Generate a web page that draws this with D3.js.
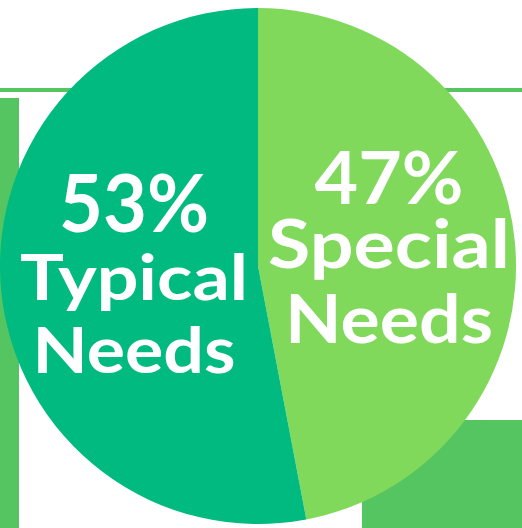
<!DOCTYPE html>
<html>
<head>
<meta charset="utf-8">
<script src="https://cdn.jsdelivr.net/npm/d3@7"></script>
<style>
html,body{margin:0;padding:0;background:#fff;overflow:hidden;}
svg{display:block;}
text{font-family:"Lato","Open Sans",sans-serif;font-weight:700;fill:#fff;}
</style>
</head>
<body>
<svg id="chart" width="522" height="528"></svg>
<script>
const categories = ["Special Needs", "Typical Needs"];
const values = [47, 53];
const percentLabels = ["47%", "53%"];
const nameLines = [["Special", "Needs"], ["Typical", "Needs"]];
const colors = ["#80D95B", "#00BA80"];

const W = 522, H = 528;
const svg = d3.select("#chart");

// decorative background shapes
const deco = "#55C562";
svg.append("rect").attr("x", 0).attr("y", 88).attr("width", W).attr("height", 4).attr("fill", deco);
svg.append("rect").attr("x", 0).attr("y", 98).attr("width", 19).attr("height", H - 98).attr("fill", deco);
svg.append("rect").attr("x", 362).attr("y", 420).attr("width", W - 362).attr("height", H - 420).attr("fill", deco);

const cx = 258, cy = 266, R = 258;
const pie = d3.pie().sort(null).value(d => d)(values);
const arc = d3.arc().innerRadius(0).outerRadius(R);
const g = svg.append("g").attr("transform", `translate(${cx},${cy})`);
g.selectAll("path").data(pie).join("path")
  .attr("d", arc)
  .attr("fill", (d, i) => colors[i]);

// labels
const layout = [
  { x: 389, lines: [{ y: 204, size: 72, w: 149 }, { y: 268, size: 66, w: 242 }, { y: 343, size: 66, w: 208 }] },
  { x: 134, lines: [{ y: 232, size: 80, w: 150 }, { y: 300, size: 63, w: 228 }, { y: 373, size: 64, w: 203 }] }
];
categories.forEach((c, i) => {
  const texts = [percentLabels[i], ...nameLines[i]];
  texts.forEach((t, j) => {
    const L = layout[i].lines[j];
    svg.append("text")
      .attr("x", layout[i].x)
      .attr("y", L.y)
      .attr("text-anchor", "middle")
      .attr("font-size", L.size)
      .attr("textLength", L.w)
      .attr("lengthAdjust", "spacingAndGlyphs")
      .text(t);
  });
});
</script>
</body>
</html>
